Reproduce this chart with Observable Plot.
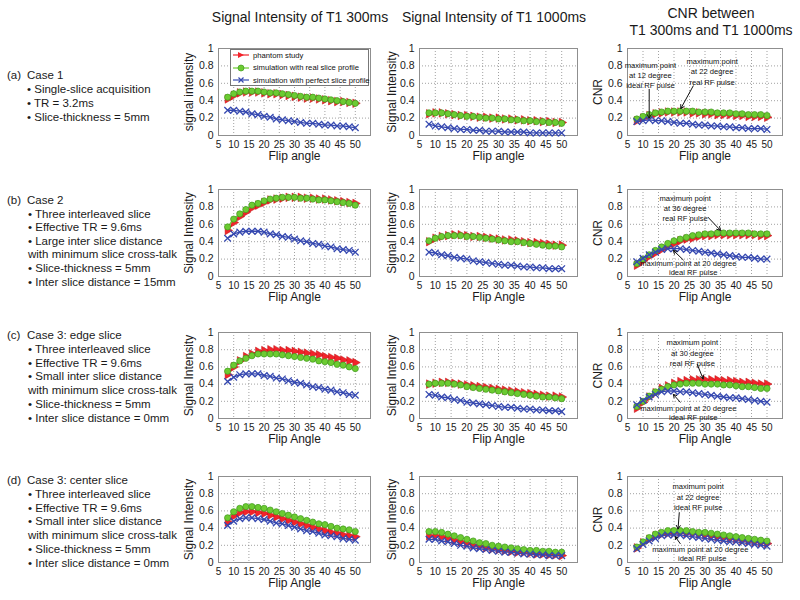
<!DOCTYPE html>
<html><head><meta charset="utf-8">
<script src="https://cdn.jsdelivr.net/npm/d3@7"></script>
<script src="https://cdn.jsdelivr.net/npm/@observablehq/plot@0.6"></script>
<style>
body{margin:0;background:#fff;font-family:"Liberation Sans",Arial,sans-serif;}
#root{position:relative;width:800px;height:600px;overflow:hidden;background:#fff;}
.abs{position:absolute;white-space:nowrap;color:#1a1a1a;}
.panel{position:absolute;}
</style></head><body><div id="root"></div>
<script>
// ---------- data ----------
const flipAngle = [8,10,12,14,16,18,20,22,24,26,28,30,32,34,36,38,40,42,44,46,48,50];
const seriesNames = ["phantom study", "simulation with real slice profile", "simulation with perfect slice profile"];
const seriesColors = ["#f2232b", "#6ccb32", "#3548b0"];
const xTicks = [5,10,15,20,25,30,35,40,45,50];
const yTicks = [0,0.2,0.4,0.6,0.8,1];
const columnTitles = [["Signal Intensity of T1 300ms"], ["Signal Intensity of T1 1000ms"], ["CNR between", "T1 300ms and T1 1000ms"]];
const caseLabels = ["(a)", "(b)", "(c)", "(d)"];
const caseTitles = ["Case 1", "Case 2", "Case 3: edge slice", "Case 3: center slice"];
const caseLines = [
  ["• Single-slice acquisition", "• TR = 3.2ms", "• Slice-thickness = 5mm"],
  ["• Three interleaved slice", "• Effective TR = 9.6ms", "• Large inter slice distance", "with minimum slice cross-talk", "• Slice-thickness = 5mm", "• Inter slice distance = 15mm"],
  ["• Three interleaved slice", "• Effective TR = 9.6ms", "• Small inter slice distance", "with minimum slice cross-talk", "• Slice-thickness = 5mm", "• Inter slice distance = 0mm"],
  ["• Three interleaved slice", "• Effective TR = 9.6ms", "• Small inter slice distance", "with minimum slice cross-talk", "• Slice-thickness = 5mm", "• Inter slice distance = 0mm"]
];
const yLabels = [
  ["signal intensity", "Signal Intensity", "CNR"],
  ["Signal Intensity", "Signal Intensity", "CNR"],
  ["Signal Intensity", "Signal Intensity", "CNR"],
  ["Signal Intensity", "Signal Intensity", "CNR"]
];
const xLabels = ["Flip angle", "Flip Angle", "Flip Angle", "Flip Angle"];

// Case 1
const a300_phantom = [0.42,0.46,0.49,0.50,0.50,0.50,0.49,0.48,0.48,0.47,0.46,0.45,0.44,0.43,0.43,0.42,0.41,0.40,0.39,0.39,0.38,0.37];
const a300_real    = [0.44,0.48,0.50,0.51,0.51,0.51,0.50,0.49,0.49,0.48,0.47,0.46,0.45,0.44,0.44,0.43,0.42,0.41,0.40,0.39,0.38,0.37];
const a300_ideal   = [0.29,0.29,0.28,0.27,0.25,0.24,0.22,0.21,0.19,0.18,0.17,0.16,0.15,0.14,0.14,0.13,0.12,0.12,0.11,0.11,0.10,0.09];
const a1000_phantom = [0.25,0.26,0.26,0.25,0.24,0.23,0.23,0.22,0.21,0.21,0.20,0.20,0.19,0.19,0.18,0.18,0.17,0.17,0.16,0.16,0.15,0.15];
const a1000_real    = [0.26,0.26,0.26,0.25,0.24,0.23,0.22,0.22,0.21,0.20,0.20,0.19,0.19,0.18,0.18,0.17,0.17,0.16,0.16,0.15,0.15,0.14];
const a1000_ideal   = [0.13,0.11,0.10,0.09,0.08,0.07,0.07,0.06,0.06,0.05,0.05,0.05,0.04,0.04,0.04,0.04,0.03,0.03,0.03,0.03,0.03,0.03];
const aCnr_phantom = [0.17,0.20,0.23,0.25,0.26,0.27,0.27,0.27,0.27,0.26,0.26,0.25,0.25,0.24,0.24,0.24,0.23,0.23,0.22,0.22,0.22,0.21];
const aCnr_real    = [0.19,0.22,0.24,0.26,0.27,0.28,0.28,0.28,0.28,0.28,0.27,0.27,0.27,0.26,0.26,0.26,0.25,0.25,0.24,0.24,0.24,0.23];
const aCnr_ideal   = [0.16,0.17,0.18,0.17,0.17,0.16,0.15,0.14,0.14,0.13,0.12,0.12,0.11,0.11,0.10,0.10,0.09,0.09,0.08,0.08,0.08,0.07];
// Case 2
const b300_phantom = [0.53,0.62,0.69,0.74,0.79,0.82,0.85,0.88,0.89,0.90,0.91,0.91,0.91,0.90,0.90,0.89,0.89,0.88,0.87,0.86,0.85,0.84];
const b300_real    = [0.57,0.66,0.72,0.77,0.82,0.84,0.87,0.89,0.90,0.91,0.91,0.91,0.90,0.90,0.89,0.88,0.88,0.87,0.86,0.85,0.84,0.82];
const b300_ideal   = [0.44,0.49,0.51,0.52,0.52,0.52,0.51,0.49,0.48,0.46,0.45,0.43,0.41,0.40,0.38,0.37,0.35,0.34,0.32,0.31,0.30,0.28];
const b1000_phantom = [0.40,0.44,0.46,0.47,0.48,0.48,0.47,0.46,0.46,0.45,0.44,0.43,0.42,0.42,0.41,0.40,0.39,0.39,0.38,0.37,0.36,0.36];
const b1000_real    = [0.41,0.44,0.46,0.47,0.47,0.47,0.46,0.46,0.45,0.44,0.43,0.42,0.41,0.40,0.40,0.39,0.38,0.37,0.36,0.35,0.35,0.34];
const b1000_ideal   = [0.28,0.27,0.25,0.24,0.22,0.21,0.20,0.18,0.17,0.16,0.15,0.14,0.13,0.13,0.12,0.11,0.11,0.10,0.10,0.09,0.09,0.09];
const bCnr_phantom = [0.13,0.18,0.23,0.27,0.31,0.35,0.38,0.41,0.43,0.44,0.46,0.47,0.47,0.48,0.48,0.48,0.48,0.48,0.48,0.48,0.47,0.47];
const bCnr_real    = [0.15,0.20,0.25,0.30,0.34,0.38,0.41,0.43,0.45,0.47,0.48,0.49,0.49,0.50,0.50,0.50,0.50,0.50,0.50,0.49,0.49,0.49];
const bCnr_ideal   = [0.17,0.21,0.25,0.28,0.31,0.32,0.32,0.32,0.31,0.30,0.29,0.28,0.27,0.26,0.25,0.24,0.23,0.22,0.22,0.21,0.20,0.20];
// Case 3 edge
const c300_phantom = [0.51,0.60,0.67,0.72,0.75,0.78,0.79,0.80,0.80,0.79,0.79,0.78,0.77,0.76,0.75,0.74,0.72,0.71,0.70,0.68,0.67,0.65];
const c300_real    = [0.55,0.62,0.67,0.70,0.73,0.75,0.75,0.75,0.75,0.74,0.73,0.72,0.71,0.70,0.69,0.67,0.66,0.65,0.63,0.62,0.60,0.58];
const c300_ideal   = [0.43,0.48,0.51,0.52,0.52,0.52,0.50,0.49,0.47,0.46,0.44,0.42,0.41,0.39,0.37,0.36,0.34,0.33,0.31,0.30,0.28,0.27];
const c1000_phantom = [0.40,0.41,0.42,0.42,0.41,0.40,0.39,0.38,0.37,0.36,0.35,0.34,0.33,0.32,0.31,0.30,0.29,0.28,0.27,0.26,0.26,0.25];
const c1000_real    = [0.40,0.41,0.41,0.41,0.40,0.39,0.37,0.36,0.35,0.34,0.33,0.32,0.31,0.30,0.29,0.28,0.27,0.26,0.25,0.25,0.24,0.23];
const c1000_ideal   = [0.28,0.27,0.25,0.24,0.22,0.21,0.19,0.18,0.17,0.16,0.15,0.14,0.13,0.13,0.12,0.11,0.11,0.10,0.10,0.09,0.09,0.08];
const cCnr_phantom = [0.12,0.19,0.25,0.30,0.35,0.38,0.41,0.43,0.44,0.45,0.45,0.45,0.45,0.45,0.44,0.44,0.43,0.42,0.42,0.41,0.40,0.40];
const cCnr_real    = [0.14,0.20,0.26,0.31,0.34,0.37,0.39,0.40,0.41,0.41,0.41,0.40,0.40,0.40,0.39,0.39,0.38,0.37,0.37,0.36,0.35,0.35];
const cCnr_ideal   = [0.16,0.21,0.25,0.28,0.31,0.32,0.32,0.31,0.31,0.30,0.29,0.28,0.27,0.26,0.25,0.24,0.24,0.23,0.22,0.21,0.20,0.19];
// Case 3 center
const d300_phantom = [0.47,0.54,0.58,0.59,0.59,0.58,0.57,0.55,0.53,0.51,0.49,0.47,0.45,0.43,0.41,0.39,0.37,0.35,0.34,0.32,0.31,0.30];
const d300_real    = [0.52,0.59,0.63,0.65,0.65,0.64,0.63,0.61,0.59,0.57,0.55,0.53,0.51,0.49,0.47,0.45,0.44,0.42,0.40,0.39,0.38,0.36];
const d300_ideal   = [0.43,0.48,0.51,0.52,0.52,0.51,0.50,0.48,0.46,0.45,0.43,0.41,0.39,0.37,0.36,0.34,0.32,0.31,0.30,0.28,0.27,0.26];
const d1000_phantom = [0.31,0.31,0.30,0.28,0.26,0.24,0.22,0.20,0.19,0.17,0.16,0.15,0.14,0.13,0.12,0.12,0.11,0.10,0.10,0.09,0.09,0.08];
const d1000_real    = [0.36,0.36,0.35,0.33,0.31,0.29,0.27,0.25,0.23,0.22,0.20,0.19,0.18,0.17,0.16,0.15,0.14,0.14,0.13,0.13,0.12,0.12];
const d1000_ideal   = [0.27,0.27,0.25,0.24,0.22,0.20,0.19,0.17,0.16,0.15,0.14,0.13,0.12,0.12,0.11,0.10,0.10,0.09,0.09,0.08,0.08,0.08];
const dCnr_phantom = [0.17,0.23,0.27,0.31,0.33,0.34,0.35,0.35,0.34,0.34,0.33,0.32,0.31,0.30,0.29,0.28,0.27,0.26,0.25,0.24,0.23,0.22];
const dCnr_real    = [0.18,0.24,0.29,0.33,0.35,0.37,0.37,0.37,0.37,0.36,0.35,0.35,0.34,0.33,0.32,0.31,0.30,0.29,0.28,0.27,0.26,0.25];
const dCnr_ideal   = [0.16,0.21,0.25,0.28,0.31,0.32,0.32,0.32,0.31,0.30,0.29,0.28,0.27,0.26,0.25,0.24,0.24,0.23,0.22,0.21,0.20,0.19];

// CNR annotations (data coordinates)
const cnrNotes = [
  [{text:"maximum point\nat 12 degree\nideal RF pulse", x:12.4, y:0.70},
   {text:"maximum point\nat 22 degree\nreal RF pulse", x:32.3, y:0.74}],
  [{text:"maximum point\nat 36 degree\nreal RF pulse", x:23.6, y:0.79},
   {text:"maximum point at 20 degree", x:24.6, y:0.16},
   {text:"ideal RF pulse", x:26.2, y:0.06}],
  [{text:"maximum point\nat 30 degree\nreal RF pulse", x:25.9, y:0.77},
   {text:"maximum point at 20 degree", x:24.6, y:0.13},
   {text:"ideal RF pulse", x:26.2, y:0.02}],
  [{text:"maximum point\nat 22 degree\nideal RF pulse", x:27.8, y:0.77},
   {text:"maximum point at 20 degree", x:28.5, y:0.16},
   {text:"ideal RF pulse", x:29.1, y:0.06}]
];
const cnrArrows = [
  [{x1:12, y1:0.53, x2:12, y2:0.20}, {x1:26.2, y1:0.57, x2:22.2, y2:0.31}],
  [{x1:31, y1:0.68, x2:35, y2:0.53}, {x1:23, y1:0.19, x2:19.8, y2:0.30}],
  [{x1:27.5, y1:0.63, x2:29.4, y2:0.46}, {x1:22, y1:0.19, x2:19.8, y2:0.28}],
  [{x1:21.7, y1:0.58, x2:21.3, y2:0.39}, {x1:22, y1:0.22, x2:20.4, y2:0.30}]
];

const panelSeries = [
  [[a300_phantom, a300_real, a300_ideal], [a1000_phantom, a1000_real, a1000_ideal], [aCnr_phantom, aCnr_real, aCnr_ideal]],
  [[b300_phantom, b300_real, b300_ideal], [b1000_phantom, b1000_real, b1000_ideal], [bCnr_phantom, bCnr_real, bCnr_ideal]],
  [[c300_phantom, c300_real, c300_ideal], [c1000_phantom, c1000_real, c1000_ideal], [cCnr_phantom, cCnr_real, cCnr_ideal]],
  [[d300_phantom, d300_real, d300_ideal], [d1000_phantom, d1000_real, d1000_ideal], [dCnr_phantom, dCnr_real, dCnr_ideal]]
];

// ---------- layout ----------
const FONT = "'Liberation Sans', Arial, Helvetica, sans-serif";
const colLeft = [218, 419, 627], colRight = [370, 577, 782];
const rowTop = [48, 189, 332, 476], rowBottom = [135, 276, 418, 562];
const mL = 44, mR = 6, mT = 5, mB = 34;
const root = document.getElementById("root");

function addDiv(html, left, top, css) {
  const d = document.createElement("div");
  d.className = "abs";
  d.innerHTML = html;
  d.style.left = left + "px";
  d.style.top = top + "px";
  Object.assign(d.style, css || {});
  root.appendChild(d);
  return d;
}

// column titles
const titleCenters = [300, 494, 711];
columnTitles.forEach((lines, c) => {
  const startY = lines.length === 1 ? 17 : 13;
  lines.forEach((t, k) => {
    addDiv(t, titleCenters[c], startY + k * 17, {fontSize: "14px", transform: "translate(-50%,-50%)", fontFamily: FONT});
  });
});

// left descriptions
const caseTop = [75, 200, 335, 480];
const caseStep = [14, 13.6, 13.8, 13.8];
caseLabels.forEach((lab, r) => {
  addDiv(lab, 7, caseTop[r], {fontSize: "11.5px", transform: "translateY(-50%)", fontFamily: FONT});
  addDiv(caseTitles[r], 27, caseTop[r], {fontSize: "11.5px", transform: "translateY(-50%)", fontFamily: FONT});
  caseLines[r].forEach((t, k) => {
    const x = r === 0 ? 27 : 28;
    addDiv(t, x, caseTop[r] + (k + 1) * caseStep[r], {fontSize: "11.5px", transform: "translateY(-50%)", fontFamily: FONT});
  });
});

// series marks
function seriesMarks(arrs) {
  const tables = arrs.map((arr, s) => flipAngle.map((x, i) => ({x, y: arr[i], s})));
  const [red, green, blue] = tables;
  return [
    Plot.line(red, {x: "x", y: "y", stroke: seriesColors[0], strokeWidth: 1.3}),
    Plot.dot(red, {x: "x", y: "y", symbol: "triangle", rotate: 90, fill: seriesColors[0], stroke: "#c01010", strokeWidth: 0.5, r: 3.2}),
    Plot.line(green, {x: "x", y: "y", stroke: seriesColors[1], strokeWidth: 1.3}),
    Plot.dot(green, {x: "x", y: "y", symbol: "circle", fill: seriesColors[1], stroke: "#3f9a1c", strokeWidth: 0.7, r: 3.1}),
    Plot.line(blue, {x: "x", y: "y", stroke: seriesColors[2], strokeWidth: 1.3}),
    Plot.dot(blue, {x: "x", y: "y", symbol: "times", stroke: seriesColors[2], strokeWidth: 1.3, r: 3.1})
  ];
}

for (let r = 0; r < 4; r++) {
  for (let c = 0; c < 3; c++) {
    const L = colLeft[c], R = colRight[c], T = rowTop[r], B = rowBottom[r];
    const W = (R - L) + mL + mR, H = (B - T) + mT + mB;
    const marks = [
      Plot.gridX(xTicks, {stroke: "#8a8a8a", strokeDasharray: "1,2", strokeOpacity: 0.8}),
      Plot.gridY(yTicks, {stroke: "#8a8a8a", strokeDasharray: "1,2", strokeOpacity: 0.8}),
      Plot.frame({stroke: "#8f8f8f"}),
      Plot.axisX(xTicks, {tickSize: 0, tickPadding: 5, label: null, fontSize: 10}),
      Plot.axisY(yTicks, {tickSize: 0, tickPadding: 5, label: null, tickFormat: d => String(d), fontSize: 10.5}),
      Plot.text([yLabels[r][c]], {text: d => d, frameAnchor: "left", textAnchor: "middle", rotate: -90, dx: c === 1 ? -27 : -29, fontSize: 12}),
      Plot.text([xLabels[r]], {text: d => d, frameAnchor: "bottom", textAnchor: "middle", dy: 24, fontSize: 12}),
      ...seriesMarks(panelSeries[r][c])
    ];
    if (c === 2) {
      marks.push(Plot.arrow(cnrArrows[r], {x1: "x1", y1: "y1", x2: "x2", y2: "y2", stroke: "#111", strokeWidth: 1, headLength: 6}));
      marks.push(Plot.text(cnrNotes[r], {x: "x", y: "y", text: "text", fontSize: 7.6, lineHeight: 1.35, fill: "#111"}));
    }
    const svg = Plot.plot({
      width: W, height: H,
      marginLeft: mL, marginRight: mR, marginTop: mT, marginBottom: mB,
      x: {domain: [5, 55]},
      y: {domain: [0, 1]},
      style: {fontFamily: FONT, fontSize: "10px", color: "#1a1a1a", background: "transparent", overflow: "visible"},
      marks
    });
    svg.classList.add("panel");
    svg.style.position = "absolute";
    svg.style.left = (L - mL) + "px";
    svg.style.top = (T - mT) + "px";
    root.appendChild(svg);
  }
}

// legend (panel a, column 1)
const legend = document.createElement("div");
legend.className = "abs";
Object.assign(legend.style, {left: "230px", top: "49px", width: "139px", height: "37px", background: "#fff", border: "1px solid #777", boxSizing: "border-box", fontFamily: FONT});
root.appendChild(legend);
const symbols = [
  c => `<polygon points="5,-3 11,0 5,3" fill="${c}"/>`,
  c => `<circle cx="8" cy="0" r="3" fill="${c}" stroke="#3f9a1c" stroke-width="0.7"/>`,
  c => `<path d="M5.5,-2.5L10.5,2.5M5.5,2.5L10.5,-2.5" stroke="${c}" stroke-width="1.2"/>`
];
seriesNames.forEach((name, i) => {
  const y = 5 + i * 12.5;
  const row = document.createElement("div");
  Object.assign(row.style, {position: "absolute", left: "2px", top: (y - 5) + "px", height: "10px", display: "flex", alignItems: "center", whiteSpace: "nowrap"});
  row.innerHTML = `<svg width="17" height="10" viewBox="0 -5 17 10" style="overflow:visible"><line x1="0" y1="0" x2="16" y2="0" stroke="${seriesColors[i]}" stroke-width="1.2"/>${symbols[i](seriesColors[i])}</svg><span style="font-size:7.7px;margin-left:3px;color:#111">${name}</span>`;
  legend.appendChild(row);
});
</script>
</body></html>
